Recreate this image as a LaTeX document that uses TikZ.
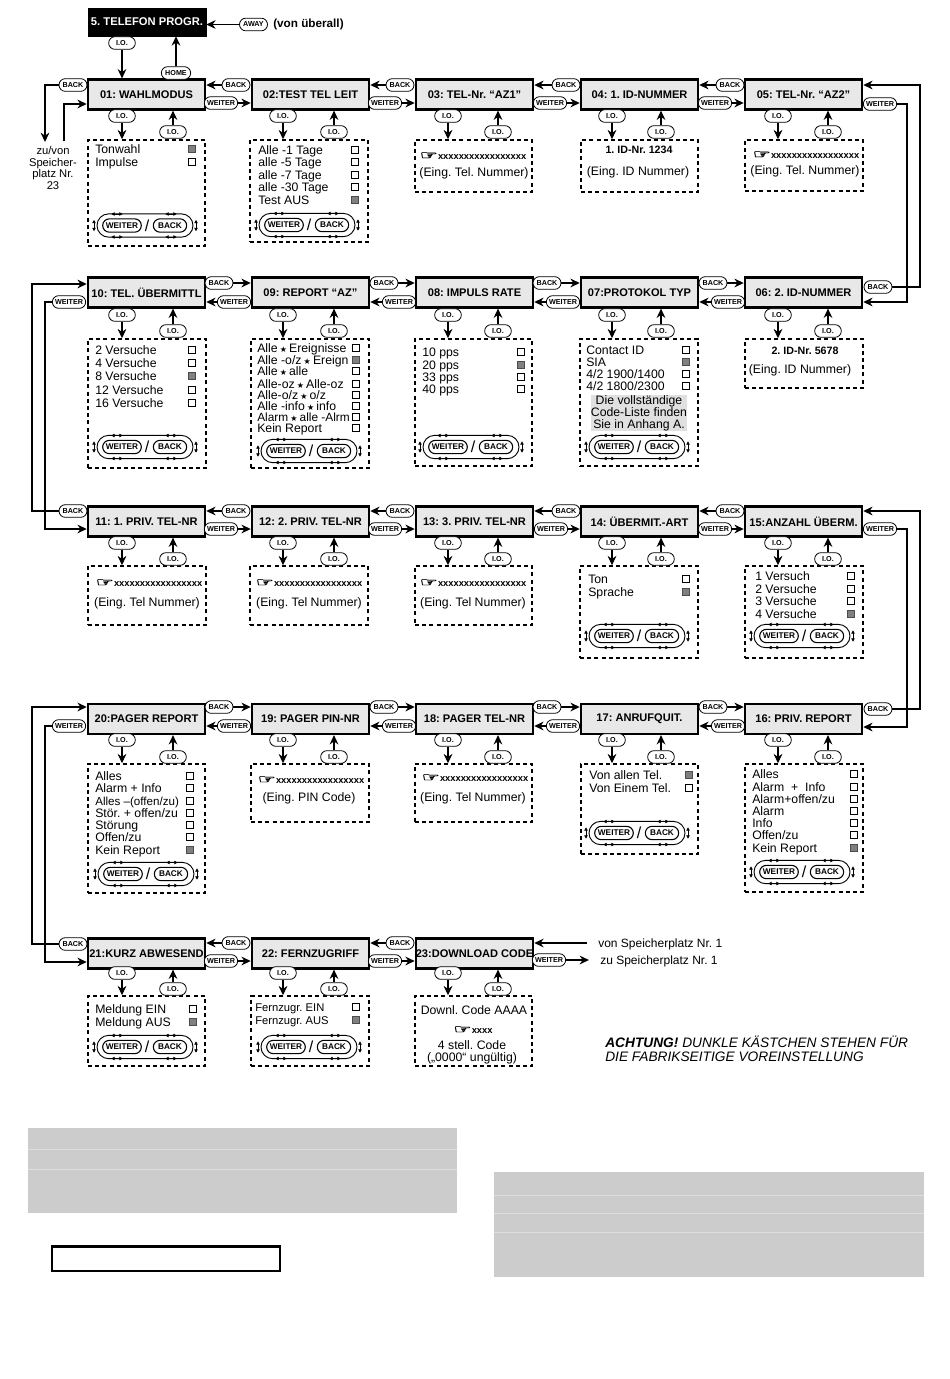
\documentclass[tikz,border=0pt]{standalone}
\usepackage{fontspec}
\setmainfont{Liberation Sans}
\newfontfamily\dejavu{DejaVu Sans}
\newfontfamily\dejavuheavy[FakeBold=2]{DejaVu Sans}
\usetikzlibrary{arrows.meta,shapes.misc}
\newcommand{\starmark}{\kern1.6pt{\dejavu\fontsize{6}{6}\selectfont ★}\kern1.6pt}
\newcommand{\handmark}{\scalebox{1.7}[1.0]{\dejavuheavy\fontsize{9}{9}\selectfont ☞}}
\newcommand{\xrow}[1]{\handmark{\bfseries\fontsize{7}{7}\selectfont #1}}
\tikzset{
  arr/.style={line width=1.2pt,-{Stealth[length=7pt,width=6.5pt]}},
  titlebox/.style={draw=black,line width=1.6pt,fill=black!9,minimum width=88pt,minimum height=22.5pt,inner sep=0pt,font=\bfseries\fontsize{8.3}{9}\selectfont},
  blackbox/.style={draw=black,fill=black,text=white,minimum width=88.5pt,minimum height=21pt,inner sep=0pt,font=\bfseries\fontsize{8.4}{9}\selectfont},
  dbox/.style={draw=black,line width=1.1pt,dash pattern=on 3pt off 2.4pt,inner sep=0pt},
  pill/.style={draw=black,line width=.6pt,fill=white,rounded rectangle,inner sep=0pt,minimum height=9.5pt,font=\bfseries\fontsize{5.4}{6}\selectfont},
  backpill/.style={pill,minimum width=21pt},
  weiterpill/.style={pill,minimum width=25pt},
  iopill/.style={pill,minimum width=20pt},
  keypill/.style={draw=black,line width=.8pt,fill=white,rounded rectangle,inner sep=0pt,minimum height=10pt,font=\bfseries\fontsize{6.2}{7}\selectfont},
  keyouter/.style={draw=black,line width=.7pt,rounded rectangle,inner sep=0pt,minimum width=72pt,minimum height=17.5pt},
  tick/.style={line width=.6pt,{Latex[length=2.8pt,width=3pt]}-{Latex[length=2.8pt,width=3pt]}},
  lbl/.style={anchor=west,inner sep=0pt,yshift=-.7pt,text height=7pt,text depth=2pt,font=\fontsize{9.2}{10}\selectfont},
  clbl/.style={anchor=center,inner sep=0pt,yshift=-.7pt,text height=7pt,text depth=2pt,font=\fontsize{9.2}{10}\selectfont},
  ckE/.style={draw=black,line width=.5pt,fill=white,minimum size=5.4pt,inner sep=0pt},
  ckF/.style={draw=black!70,line width=.5pt,fill=black!50,minimum size=5.4pt,inner sep=0pt},
  graypanel/.style={fill=black!20,draw=none},
  sepline/.style={draw=black!13,line width=.7pt},
}
% id, cx, cy, title
\newcommand{\titlenode}[4]{\node[titlebox] (t#1) at (#2,#3) {#4};}
% id, x1, y1, x2, y2
\newcommand{\dashnode}[5]{\node[dbox,minimum width={(#4-#2)*0.75pt},minimum height={(#5-#3)*0.75pt}] (d#1) at ({(#2+#4)/2},{(#3+#5)/2}) {};}
% id, lx, rx, ly, ry
\newcommand{\iopair}[5]{%
  \node[iopill] (l#1) at (#2,#4) {I.O.};
  \node[iopill] (r#1) at (#3,#5) {I.O.};
  \draw[arr] (l#1.south) -- (l#1.south |- d#1.north);
  \draw[arr] (r#1.north) -- (r#1.north |- t#1.south);
}
% id, cx, cy
\newcommand{\keypad}[3]{%
  \node[keyouter] (o#1) at (#2-2,#3) {};
  \node[keypill,minimum width=29pt] (kw#1) at (#2-25,#3) {WEITER};
  \node[keypill,minimum width=25pt] (kb#1) at (#2+23,#3) {BACK};
  \node[inner sep=0pt,font=\fontsize{12}{12}\selectfont] (ks#1) at (#2,#3) {/};
  \draw[tick] (#2-36,#3-11.5) -- (#2-24,#3-11.5);
  \draw[tick] (#2+18,#3-11.5) -- (#2+30,#3-11.5);
  \draw[tick] (#2-36,#3+11.5) -- (#2-24,#3+11.5);
  \draw[tick] (#2+18,#3+11.5) -- (#2+30,#3+11.5);
  \draw[tick] (#2-53,#3-6) -- (#2-53,#3+6);
  \draw[tick] (#2+49,#3-6) -- (#2+49,#3+6);
}
% forward link: id, backx, weiterx, backy, weitery, left id, right id
\newcommand{\linkfwd}[7]{%
  \node[backpill] (bk#1) at (#2,#4) {BACK};
  \node[weiterpill] (wt#1) at (#3,#5) {WEITER};
  \draw[arr] (bk#1.west) -- (bk#1.west -| t#6.east);
  \draw[arr] (wt#1.east) -- (wt#1.east -| t#7.west);
}
% reverse link
\newcommand{\linkrev}[7]{%
  \node[backpill] (bk#1) at (#2,#4) {BACK};
  \node[weiterpill] (wt#1) at (#3,#5) {WEITER};
  \draw[arr] (bk#1.east) -- (bk#1.east -| t#7.west);
  \draw[arr] (wt#1.west) -- (wt#1.west -| t#6.east);
}
% id, text x, box x, {y/text/state,...}
\newcommand{\menuitems}[4]{%
  \foreach \yy/\txt/\stt [count=\n] in {#4} {
    \node[lbl] (m#1-\n) at (#2,\yy) {\txt};
    \node[ck\stt] (c#1-\n) at (#3,\yy) {};
  }
}
\begin{document}
\frenchspacing
\begin{tikzpicture}[x=0.75pt,y=-0.75pt]
\useasboundingbox (0,0) rectangle (950,1379);
\fill[white] (0,0) rectangle (950,1379);

% ---------- title boxes
\node[blackbox] (top) at (147,22) {5. TELEFON PROGR.};
\titlenode{01}{146.5}{94.5}{01: WAHLMODUS}
\titlenode{02}{310.5}{94.5}{02:TEST TEL LEIT}
\titlenode{03}{474.5}{94.5}{03: TEL-Nr. “AZ1”}
\titlenode{04}{639.5}{94.5}{04: 1. ID-NUMMER}
\titlenode{05}{803.5}{94.5}{05: TEL-Nr. “AZ2”}
\titlenode{10}{146.5}{292.5}{10: TEL. ÜBERMITTL}
\titlenode{09}{310.5}{292.5}{09: REPORT “AZ”}
\titlenode{08}{474.5}{292.5}{08: IMPULS RATE}
\titlenode{07}{639.5}{292.5}{07:PROTOKOL TYP}
\titlenode{06}{803.5}{292.5}{06: 2. ID-NUMMER}
\titlenode{11}{146.5}{521.5}{11: 1. PRIV. TEL-NR}
\titlenode{12}{310.5}{521.5}{12: 2. PRIV. TEL-NR}
\titlenode{13}{474.5}{521.5}{13: 3. PRIV. TEL-NR}
\titlenode{14}{639.5}{521.5}{14: ÜBERMIT.-ART}
\titlenode{15}{803.5}{521.5}{15:ANZAHL ÜBERM.}
\titlenode{20}{146.5}{719}{20:PAGER REPORT}
\titlenode{19}{310.5}{719}{19: PAGER PIN-NR}
\titlenode{18}{474.5}{719}{18: PAGER TEL-NR}
\titlenode{17}{639.5}{719}{17: ANRUFQUIT.}
\titlenode{16}{803.5}{719}{16: PRIV. REPORT}
\titlenode{21}{146.5}{953.5}{21:KURZ ABWESEND}
\titlenode{22}{310.5}{953.5}{22: FERNZUGRIFF}
\titlenode{23}{474.5}{953.5}{23:DOWNLOAD CODE}

% ---------- dashed boxes
\dashnode{01}{88}{140}{205}{246}
\dashnode{02}{250}{140}{368}{242}
\dashnode{03}{415}{140}{532}{192}
\dashnode{04}{581}{140}{698}{192}
\dashnode{05}{745}{140}{863}{191}
\dashnode{10}{88}{339}{206}{468}
\dashnode{09}{251}{339}{369}{468}
\dashnode{08}{415}{339}{532}{466}
\dashnode{07}{580}{339}{698}{466}
\dashnode{06}{745}{339}{863}{388}
\dashnode{11}{88}{566}{206}{625}
\dashnode{12}{250}{566}{368}{625}
\dashnode{13}{415}{566}{532}{625}
\dashnode{14}{580}{566}{698}{658}
\dashnode{15}{745}{566}{863}{658}
\dashnode{20}{88}{764}{205}{893}
\dashnode{19}{251}{764}{369}{822}
\dashnode{18}{415}{764}{532}{822}
\dashnode{17}{581}{764}{698}{854}
\dashnode{16}{745}{764}{863}{892}
\dashnode{21}{88}{996}{205}{1066}
\dashnode{22}{251}{996}{369}{1066}
\dashnode{23}{415}{996}{532}{1066}

% ---------- I.O. pairs
\iopair{01}{122}{173}{116}{132}
\iopair{02}{283}{334}{116}{132}
\iopair{03}{448}{498}{116}{132}
\iopair{04}{612}{661}{116}{132}
\iopair{05}{778}{828}{116}{132}
\iopair{10}{122}{173}{315}{331}
\iopair{09}{283}{334}{315}{331}
\iopair{08}{448}{498}{315}{331}
\iopair{07}{612}{661}{315}{331}
\iopair{06}{778}{828}{315}{331}
\iopair{11}{122}{173}{543}{559}
\iopair{12}{283}{334}{543}{559}
\iopair{13}{448}{498}{543}{559}
\iopair{14}{612}{661}{543}{559}
\iopair{15}{778}{828}{543}{559}
\iopair{20}{122}{173}{740}{757}
\iopair{19}{283}{334}{740}{757}
\iopair{18}{448}{498}{740}{757}
\iopair{17}{612}{661}{740}{757}
\iopair{16}{778}{828}{740}{757}
\iopair{21}{122}{173}{973}{989}
\iopair{22}{283}{334}{973}{989}
\iopair{23}{448}{498}{973}{989}

% ---------- horizontal links
\linkfwd{a1}{236}{221}{85}{103}{01}{02}
\linkfwd{a2}{400}{385}{85}{103}{02}{03}
\linkfwd{a3}{566}{550}{85}{103}{03}{04}
\linkfwd{a4}{730}{715}{85}{103}{04}{05}
\linkrev{b1}{219}{234}{283}{302}{10}{09}
\linkrev{b2}{384}{399}{283}{302}{09}{08}
\linkrev{b3}{547}{563}{283}{302}{08}{07}
\linkrev{b4}{713}{728}{283}{302}{07}{06}
\linkfwd{c1}{236}{221}{511}{529}{11}{12}
\linkfwd{c2}{400}{385}{511}{529}{12}{13}
\linkfwd{c3}{566}{551}{511}{529}{13}{14}
\linkfwd{c4}{730}{715}{511}{529}{14}{15}
\linkrev{e1}{219}{234}{707}{726}{20}{19}
\linkrev{e2}{384}{399}{707}{726}{19}{18}
\linkrev{e3}{547}{563}{707}{726}{18}{17}
\linkrev{e4}{713}{728}{707}{726}{17}{16}
\linkfwd{f1}{236}{221}{943}{961}{21}{22}
\linkfwd{f2}{400}{385}{943}{961}{22}{23}

% ---------- top links
\node[iopill] (iotop) at (122,43) {I.O.};
\draw[arr] (iotop.south) -- (iotop.south |- t01.north);
\node[pill,minimum width=22pt] (home) at (176,73) {HOME};
\draw[arr] (home.north) -- (home.north |- top.south);
\node[pill,minimum width=21pt] (away) at (253.5,24.5) {AWAY};
\draw[arr] (away.west) -- (away.west -| top.east);
\node[anchor=west,inner sep=0pt,font=\bfseries\fontsize{8.8}{9}\selectfont] (vonueberall) at (273,24.5) {(von überall)};

% ---------- left of 01
\node[backpill] (bk0) at (73,85) {BACK};
\node[inner sep=0pt,align=center,font=\fontsize{8.4}{8.7}\selectfont] (zuvon) at (53,168) {zu/von\\Speicher-\\platz Nr.\\23};
\coordinate (bk0a) at (45,85);
\coordinate (bk0b) at (45,142);
\draw[arr] (bk0.west) -- (bk0a) -- (bk0b);
\coordinate (in0a) at (64,141);
\coordinate (in0b) at (64,104);
\draw[arr] (in0a) -- (in0b) -- (in0b -| t01.west);

% ---------- right 05 / 06
\node[backpill] (bk6) at (878,287) {BACK};
\node[weiterpill] (wt5) at (880,104) {WEITER};
\coordinate (r5a) at (920,287);
\coordinate (r5b) at (920,85);
\draw[arr] (bk6.east) -- (r5a) -- (r5b) -- (r5b -| t05.east);
\coordinate (r6a) at (907,104);
\coordinate (r6b) at (907,302);
\draw[arr] (wt5.east) -- (r6a) -- (r6b) -- (r6b -| t06.east);

% ---------- left 10 / 11
\node[backpill] (bk11) at (73,511) {BACK};
\node[weiterpill] (wt10) at (69,302) {WEITER};
\coordinate (l1a) at (32,511);
\coordinate (l1b) at (32,284);
\draw[arr] (bk11.west) -- (l1a) -- (l1b) -- (l1b -| t10.west);
\coordinate (l2a) at (45,302);
\coordinate (l2b) at (45,529);
\draw[arr] (wt10.west) -- (l2a) -- (l2b) -- (l2b -| t11.west);

% ---------- right 15 / 16
\node[backpill] (bk16) at (878,709) {BACK};
\node[weiterpill] (wt15) at (880,529) {WEITER};
\coordinate (r7a) at (920,709);
\coordinate (r7b) at (920,511);
\draw[arr] (bk16.east) -- (r7a) -- (r7b) -- (r7b -| t15.east);
\coordinate (r8a) at (907,529);
\coordinate (r8b) at (907,727);
\draw[arr] (wt15.east) -- (r8a) -- (r8b) -- (r8b -| t16.east);

% ---------- left 20 / 21
\node[backpill] (bk21) at (73,944) {BACK};
\node[weiterpill] (wt20) at (69,726) {WEITER};
\coordinate (l3a) at (32,944);
\coordinate (l3b) at (32,707);
\draw[arr] (bk21.west) -- (l3a) -- (l3b) -- (l3b -| t20.west);
\coordinate (l4a) at (45,726);
\coordinate (l4b) at (45,962);
\draw[arr] (wt20.west) -- (l4a) -- (l4b) -- (l4b -| t21.west);

% ---------- right of 23
\node[lbl,font=\fontsize{9}{10}\selectfont] (vonsp) at (598,943) {von Speicherplatz Nr. 1};
\node[lbl,font=\fontsize{9}{10}\selectfont] (zusp) at (600,960) {zu Speicherplatz Nr. 1};
\coordinate (vonstart) at (587,943);
\draw[arr] (vonstart) -- (vonstart -| t23.east);
\node[weiterpill] (wt23) at (549,960) {WEITER};
\coordinate (zustop) at (589,960);
\draw[arr] (wt23.east) -- (zustop);

% ---------- menus
\menuitems{01}{95}{192}{149/Tonwahl/F,162/Impulse/E}
\menuitems{02}{258}{355}{150/Alle -1 Tage/E,162/alle -5 Tage/E,175/alle -7 Tage/E,187/alle -30 Tage/E,200/Test AUS/F}
\menuitems{10}{95}{192}{350/2 Versuche/E,363/4 Versuche/E,376/8 Versuche/F,390/12 Versuche/E,403/16 Versuche/E}
\menuitems{09}{257}{356}{348/{Alle\starmark Ereignisse}/E,360/{Alle -o/z\starmark Ereign}/F,371/{Alle\starmark alle}/E,384/{Alle-oz\starmark Alle-oz}/E,395/{Alle-o/z\starmark o/z}/E,406/{Alle -info\starmark info}/E,417/{\fontsize{8.9}{10}\selectfont Alarm\starmark alle -Alrm}/E,428/Kein Report/E}
\menuitems{08}{422}{521}{352/10 pps/E,365/20 pps/F,377/33 pps/E,389/40 pps/E}
\menuitems{07}{586}{686}{350/Contact ID/E,362/SIA/F,374/{4/2 1900/1400}/E,386/{4/2 1800/2300}/E}
\menuitems{14}{588}{686}{579/Ton/E,592/Sprache/F}
\menuitems{15}{755}{851}{576/1 Versuch/E,589/2 Versuche/E,601/3 Versuche/E,614/4 Versuche/F}
\menuitems{20}{95}{190}{776/Alles/E,788/Alarm + Info/E,801/{\fontsize{8.7}{10}\selectfont Alles –(offen/zu)}/E,813/{Stör. + offen/zu}/E,825/Störung/E,837/{Offen/zu}/E,850/Kein Report/F}
\menuitems{17}{589}{689}{775/Von allen Tel./F,788/Von Einem Tel./E}
\menuitems{16}{752}{854}{774/Alles/E,787/{Alarm\ \ +\ \ Info}/E,799/{Alarm+offen/zu}/E,811/Alarm/E,823/Info/E,835/{Offen/zu}/E,848/Kein Report/F}
\menuitems{21}{95}{193}{1009/Meldung EIN/E,1022/Meldung AUS/F}
\menuitems{22}{255}{356}{1007/{\fontsize{8.4}{10}\selectfont Fernzugr. EIN}/E,1020/{\fontsize{8.4}{10}\selectfont Fernzugr. AUS}/F}

% ---------- entry panels
\node[clbl] (e03a) at (473,155) {\xrow{xxxxxxxxxxxxxxxxx}};
\node[clbl] (e03b) at (474,172) {(Eing. Tel. Nummer)};
\node[clbl,font=\bfseries\fontsize{8}{9}\selectfont] (e04a) at (639,149) {1. ID-Nr. 1234};
\node[clbl] (e04b) at (638,171) {(Eing. ID Nummer)};
\node[clbl] (e05a) at (806,154) {\xrow{xxxxxxxxxxxxxxxxx}};
\node[clbl] (e05b) at (805,170) {(Eing. Tel. Nummer)};
\node[clbl,font=\bfseries\fontsize{8}{9}\selectfont] (e06a) at (805,350) {2. ID-Nr. 5678};
\node[clbl] (e06b) at (800,369) {(Eing. ID Nummer)};
\node[clbl] (e11a) at (149,582) {\xrow{xxxxxxxxxxxxxxxxx}};
\node[clbl] (e11b) at (147,602) {(Eing. Tel Nummer)};
\node[clbl] (e12a) at (309,582) {\xrow{xxxxxxxxxxxxxxxxx}};
\node[clbl] (e12b) at (309,602) {(Eing. Tel Nummer)};
\node[clbl] (e13a) at (473,582) {\xrow{xxxxxxxxxxxxxxxxx}};
\node[clbl] (e13b) at (473,602) {(Eing. Tel Nummer)};
\node[clbl] (e19a) at (311,779) {\xrow{xxxxxxxxxxxxxxxxx}};
\node[clbl] (e19b) at (309,797) {(Eing. PIN Code)};
\node[clbl] (e18a) at (475,777) {\xrow{xxxxxxxxxxxxxxxxx}};
\node[clbl] (e18b) at (473,797) {(Eing. Tel Nummer)};
\node[clbl] (e23a) at (474,1010) {Downl. Code AAAA};
\node[clbl] (e23b) at (473,1029) {\xrow{xxxx}};
\node[clbl] (e23c) at (472,1045) {4 stell. Code};
\node[clbl] (e23d) at (472,1057) {(„0000“ ungültig)};

% ---------- grey note in 07
\node[fill=black!12,minimum width=72pt,minimum height=27pt,inner sep=0pt,align=center,font=\fontsize{9.2}{8.9}\selectfont] (note07) at (639,413) {Die vollständige\\Code-Liste finden\\Sie in Anhang A.};

% ---------- keypads
\keypad{01}{147}{225.5}
\keypad{02}{309}{225}
\keypad{10}{147}{447}
\keypad{09}{311}{451}
\keypad{08}{473}{447}
\keypad{07}{639}{447}
\keypad{14}{639}{636}
\keypad{15}{804}{636}
\keypad{20}{148}{874}
\keypad{17}{639}{833}
\keypad{16}{804}{872}
\keypad{21}{147}{1047}
\keypad{22}{311}{1047}

% ---------- note
\node[anchor=west,inner sep=0pt,align=left,font=\itshape\fontsize{10.3}{10.6}\selectfont] (achtung) at (605,1049) {{\bfseries ACHTUNG!} DUNKLE KÄSTCHEN STEHEN FÜR\\DIE FABRIKSEITIGE VOREINSTELLUNG};

% ---------- bottom panels
\fill[graypanel] (28,1128) rectangle (457,1213);
\draw[sepline] (28,1149) -- (457,1149);
\draw[sepline] (28,1169) -- (457,1169);
\fill[graypanel] (494,1172) rectangle (924,1277);
\draw[sepline] (494,1195) -- (924,1195);
\draw[sepline] (494,1213) -- (924,1213);
\draw[sepline] (494,1232) -- (924,1232);
\draw[line width=1.8pt,draw=black,fill=white] (52,1246.5) rectangle (280,1271);
\end{tikzpicture}
\end{document}
